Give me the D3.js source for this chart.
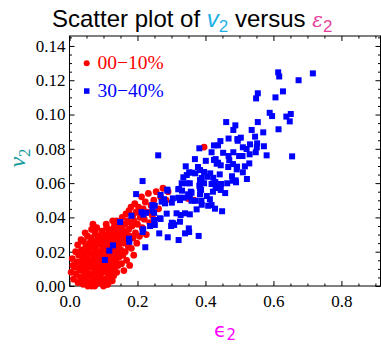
<!DOCTYPE html>
<html>
<head>
<meta charset="utf-8">
<script src="https://cdn.jsdelivr.net/npm/d3@7"></script>
<style>
  body { margin: 0; background: #fff; }
  .tick text { font-family: "Liberation Serif", "Times New Roman", serif; font-size: 17px; fill: #000; }
</style>
</head>
<body>
<div id="chart"></div>
<script>
// Scatter: v2 vs eps2 for two centrality classes
const central = [ // 00-10%  [eps2, v2]
  [0.005,0.008],[0.008,0.016],[0.012,0.004],[0.015,0.011],[0.018,0.02],[0.02,0.007],[0.022,0.014],[0.025,0.002],[0.027,0.018],[0.029,0.01],[0.01,0.012],[0.024,0.024],
  [0.032,0.005],[0.033,0.013],[0.035,0.021],[0.036,0.009],[0.038,0.016],[0.04,0.001],[0.041,0.026],[0.042,0.011],[0.044,0.019],[0.045,0.006],[0.047,0.014],[0.048,0.023],[0.05,0.003],[0.051,0.009],[0.052,0.017],[0.053,0.029],[0.055,0.012],[0.056,0.021],[0.057,0.006],[0.058,0.015],[0.059,0.025],[0.034,0.027],[0.046,0.031],[0.039,0.004],[0.054,0.0],
  [0.061,0.002],[0.062,0.011],[0.063,0.019],[0.064,0.028],[0.065,0.033],[0.066,0.007],[0.067,0.015],[0.068,0.023],[0.07,0.004],[0.071,0.012],[0.072,0.018],[0.073,0.026],[0.074,0.009],[0.075,0.031],[0.076,0.014],[0.077,0.021],[0.078,0.001],[0.079,0.006],[0.08,0.017],[0.081,0.024],[0.082,0.011],[0.083,0.029],[0.084,0.004],[0.085,0.015],[0.086,0.02],[0.087,0.008],[0.088,0.026],[0.089,0.013],[0.069,0.036],[0.08,0.034],[0.065,0.0],[0.087,0.002],[0.074,0.0],[0.083,0.019],[0.062,0.024],
  [0.091,0.005],[0.092,0.018],[0.093,0.027],[0.094,0.011],[0.095,0.032],[0.096,0.002],[0.097,0.021],[0.098,0.014],[0.099,0.008],[0.1,0.025],[0.101,0.017],[0.102,0.03],[0.103,0.004],[0.104,0.012],[0.105,0.022],[0.106,0.009],[0.107,0.028],[0.108,0.016],[0.109,0.034],[0.11,0.001],[0.111,0.02],[0.112,0.013],[0.113,0.026],[0.114,0.007],[0.115,0.031],[0.116,0.018],[0.117,0.023],[0.118,0.011],[0.119,0.029],[0.12,0.004],[0.094,0.024],[0.1,0.0],[0.108,0.036],[0.096,0.029],[0.113,0.001],
  [0.121,0.016],[0.122,0.027],[0.123,0.009],[0.124,0.033],[0.125,0.021],[0.126,0.003],[0.127,0.013],[0.128,0.03],[0.129,0.024],[0.13,0.006],[0.131,0.018],[0.132,0.035],[0.133,0.011],[0.134,0.027],[0.135,0.021],[0.136,0.031],[0.137,0.015],[0.138,0.038],[0.139,0.008],[0.14,0.025],[0.141,0.019],[0.142,0.033],[0.143,0.012],[0.144,0.028],[0.145,0.023],[0.146,0.036],[0.147,0.017],[0.148,0.03],[0.149,0.026],[0.127,0.038],
  [0.151,0.021],[0.152,0.034],[0.153,0.013],[0.155,0.04],[0.156,0.028],[0.157,0.018],[0.159,0.032],[0.16,0.009],[0.162,0.025],[0.163,0.036],[0.164,0.02],[0.166,0.042],[0.167,0.03],[0.168,0.015],[0.17,0.027],[0.171,0.038],[0.173,0.023],[0.174,0.033],[0.175,0.044],[0.177,0.012],[0.178,0.029],[0.179,0.037],
  [0.181,0.046],[0.182,0.022],[0.184,0.035],[0.186,0.041],[0.187,0.028],[0.189,0.018],[0.19,0.038],[0.192,0.048],[0.194,0.031],[0.196,0.043],[0.198,0.025],[0.2,0.036],[0.203,0.046],[0.206,0.029],[0.208,0.04],
  [0.212,0.052],[0.214,0.034],[0.217,0.045],[0.22,0.039],[0.223,0.049],[0.226,0.03],[0.229,0.043],[0.232,0.054],[0.236,0.037],[0.24,0.047],[0.244,0.041],[0.248,0.05],
  [0.255,0.055],[0.262,0.045],[0.268,0.052],[0.275,0.057],[0.284,0.05],[0.29,0.055],
  [0.349,0.051],[0.366,0.05],[0.396,0.081]
];
const peripheral = [ // 30-40%  [eps2, v2]
  [0.614,0.1246],[0.617,0.1222],[0.716,0.124],[0.674,0.120],[0.628,0.1135],[0.554,0.1124],[0.549,0.1094],[0.606,0.110],
  [0.589,0.101],[0.596,0.0991],[0.638,0.0988],[0.651,0.1003],[0.648,0.096],[0.461,0.0956],[0.488,0.0937],[0.554,0.0956],
  [0.482,0.091],[0.536,0.091],[0.570,0.0896],[0.615,0.0914],[0.468,0.086],[0.444,0.0845],[0.494,0.0857],[0.504,0.0865],
  [0.546,0.0871],[0.495,0.0847],[0.382,0.0803],[0.425,0.082],[0.437,0.082],[0.510,0.0809],[0.521,0.0799],[0.531,0.0826],
  [0.552,0.0832],[0.572,0.0815],[0.551,0.0809],[0.261,0.0762],[0.369,0.074],[0.418,0.078],[0.401,0.073],[0.430,0.074],
  [0.482,0.078],[0.468,0.0758],[0.499,0.0758],[0.530,0.0768],[0.548,0.078],[0.580,0.0762],[0.655,0.0756],[0.470,0.0733],
  [0.437,0.0719],[0.445,0.0704],[0.529,0.0715],[0.516,0.0698],[0.342,0.0698],[0.378,0.0694],[0.384,0.0676],[0.396,0.0665],
  [0.414,0.0657],[0.442,0.0651],[0.467,0.0694],[0.492,0.068],[0.510,0.0663],[0.352,0.0663],[0.370,0.0657],[0.345,0.0647],
  [0.335,0.0634],[0.389,0.063],[0.406,0.0637],[0.423,0.0631],[0.478,0.064],[0.489,0.0616],[0.522,0.0624],[0.330,0.0599],
  [0.345,0.0599],[0.382,0.0585],[0.418,0.0595],[0.446,0.0595],[0.464,0.0599],[0.322,0.0566],[0.288,0.0562],[0.384,0.057],
  [0.215,0.0612],[0.196,0.0536],[0.182,0.041],[0.149,0.0373],[0.212,0.043],[0.217,0.0416],[0.249,0.0427],[0.244,0.0472],
  [0.251,0.0468],[0.268,0.0531],[0.288,0.0556],[0.278,0.0506],[0.281,0.0482],[0.286,0.0422],[0.268,0.0391],[0.249,0.0385],
  [0.251,0.0356],[0.237,0.035],[0.215,0.0315],[0.264,0.0307],[0.289,0.0284],[0.321,0.0268],[0.299,0.035],[0.305,0.0366],
  [0.315,0.0424],[0.340,0.0424],[0.327,0.0414],[0.352,0.0315],[0.380,0.0292],[0.175,0.0276],[0.223,0.0226],[0.128,0.0237],
  [0.117,0.0206],[0.104,0.0152],[0.321,0.0515],[0.337,0.0515],[0.349,0.0535],[0.359,0.0497],[0.371,0.0497],[0.388,0.0497],
  [0.389,0.0474],[0.408,0.0468],[0.428,0.0451],[0.449,0.0436],[0.413,0.0506],[0.404,0.0525],[0.384,0.0535],[0.387,0.0561],
  [0.357,0.055],[0.354,0.0599],[0.360,0.0661],[0.384,0.0618],[0.396,0.0599],[0.429,0.0606],[0.435,0.0583],[0.430,0.0571],
  [0.445,0.056],[0.458,0.0542],[0.422,0.055],[0.480,0.0614],[0.490,0.0605],[0.493,0.0696],[0.481,0.0711],[0.433,0.0713],
  [0.425,0.0735],[0.452,0.0777],[0.509,0.0758],[0.301,0.0486],[0.325,0.0501],[0.354,0.0418],[0.301,0.0369],[0.308,0.0356],
  [0.351,0.0336],[0.340,0.0307],[0.374,0.0447],[0.418,0.0472],[0.359,0.0544],[0.354,0.0521],[0.320,0.0564],[0.331,0.0556],
  [0.304,0.0511],[0.271,0.0492],[0.244,0.0439],[0.225,0.0427],[0.217,0.0331],[0.176,0.0258],[0.266,0.0395],[0.325,0.0375]
];
const legendLabels = ["00\u221210%", "30\u221240%"];
const xTicks = [0, 0.2, 0.4, 0.6, 0.8];
const yTicks = [0, 0.02, 0.04, 0.06, 0.08, 0.10, 0.12, 0.14];

const W = 381, H = 344;
const margin = {top: 36, right: 0.5, bottom: 58, left: 69.5};
const svg = d3.select("#chart").append("svg").attr("width", W).attr("height", H);

const x = d3.scaleLinear().domain([0, 0.915]).range([margin.left, W - margin.right]);
const y = d3.scaleLinear().domain([0, 0.1458]).range([H - margin.bottom, margin.top]);
const x0 = margin.left, x1 = W - margin.right, y0 = H - margin.bottom, y1 = margin.top;

const xMinor = d3.range(0, 0.915, 0.05).filter(v => !xTicks.some(t => Math.abs(t - v) < 1e-6));
const yMinor = d3.range(0, 0.1455, 0.005).filter(v => !yTicks.some(t => Math.abs(t - v) < 1e-6));

function axis(gen, tx, ty, vals, size, fmt, pad) {
  const g = svg.append("g").attr("transform", `translate(${tx},${ty})`)
    .call(gen.tickValues(vals).tickSize(-size).tickPadding(pad || 3).tickFormat(fmt || ""));
  g.select(".domain").remove();
  g.selectAll("line").attr("stroke", "#000");
  return g;
}
// bottom / left with labels, top / right mirrored
axis(d3.axisBottom(x), 0, y0, xTicks, 5, d3.format(".1f"), 8.5);
axis(d3.axisBottom(x), 0, y0, xMinor, 2.5);
axis(d3.axisTop(x), 0, y1, xTicks, 5);
axis(d3.axisTop(x), 0, y1, xMinor, 2.5);
axis(d3.axisLeft(y), x0, 0, yTicks, 5, d3.format(".2f"), 4);
axis(d3.axisLeft(y), x0, 0, yMinor, 2.5);
axis(d3.axisRight(y), x1, 0, yTicks, 5);
axis(d3.axisRight(y), x1, 0, yMinor, 2.5);

svg.append("rect").attr("x", x0).attr("y", y1).attr("width", x1 - x0).attr("height", y0 - y1)
  .attr("fill", "none").attr("stroke", "#000").attr("stroke-width", 1);

// points: red first, blue squares on top
svg.append("g").selectAll("circle").data(central).join("circle")
  .attr("cx", d => x(d[0])).attr("cy", d => y(d[1])).attr("r", 3.4).attr("fill", "#ff0000");
svg.append("g").selectAll("rect").data(peripheral).join("rect")
  .attr("x", d => x(d[0]) - 3).attr("y", d => y(d[1]) - 3)
  .attr("width", 6).attr("height", 6).attr("fill", "#0000ff");

// legend
const lg = svg.append("g").attr("font-family", "Liberation Serif, serif").attr("font-size", 19.5);
lg.append("circle").attr("cx", 86.7).attr("cy", 63.3).attr("r", 3).attr("fill", "#ff0000");
lg.append("text").attr("x", 97.5).attr("y", 69).attr("fill", "#ff0000").text(legendLabels[0]);
lg.append("rect").attr("x", 84).attr("y", 88.3).attr("width", 5.5).attr("height", 5.5).attr("fill", "#0000ff");
lg.append("text").attr("x", 97.5).attr("y", 97).attr("fill", "#0000ff").text(legendLabels[1]);

// title
const title = svg.append("text").attr("x", 52).attr("y", 27)
  .attr("font-family", "Liberation Sans, Arial, sans-serif").attr("font-size", 24).attr("fill", "#000");
title.append("tspan").text("Scatter plot of ");
title.append("tspan").attr("fill", "#1eb0e8").attr("font-style", "italic").text("v");
title.append("tspan").attr("fill", "#1eb0e8").attr("font-size", 17).attr("dy", 5).text("2");
title.append("tspan").attr("dy", -5).text(" versus ");
title.append("tspan").attr("fill", "#e6409a").attr("font-family", "DejaVu Serif, serif").attr("font-style", "italic").attr("font-size", 20).text("\u03b5");
title.append("tspan").attr("fill", "#e6409a").attr("font-size", 17).attr("dy", 5).text("2");

// axis labels
const yl = svg.append("text").attr("transform", "translate(25,158) rotate(-90)").attr("text-anchor", "middle")
  .attr("font-family", "Liberation Serif, serif").attr("font-size", 24).attr("fill", "#1a9c9c");
yl.append("tspan").attr("font-style", "italic").text("v");
yl.append("tspan").attr("font-size", 17).attr("dy", 5).text("2");

const xl = svg.append("text").attr("x", 225).attr("y", 337).attr("text-anchor", "middle")
  .attr("font-family", "DejaVu Sans, sans-serif").attr("font-size", 20).attr("fill", "#ff00ff");
xl.append("tspan").text("\u03f5");
xl.append("tspan").attr("font-size", 15).attr("dy", 3).text("2");
</script>
</body>
</html>
